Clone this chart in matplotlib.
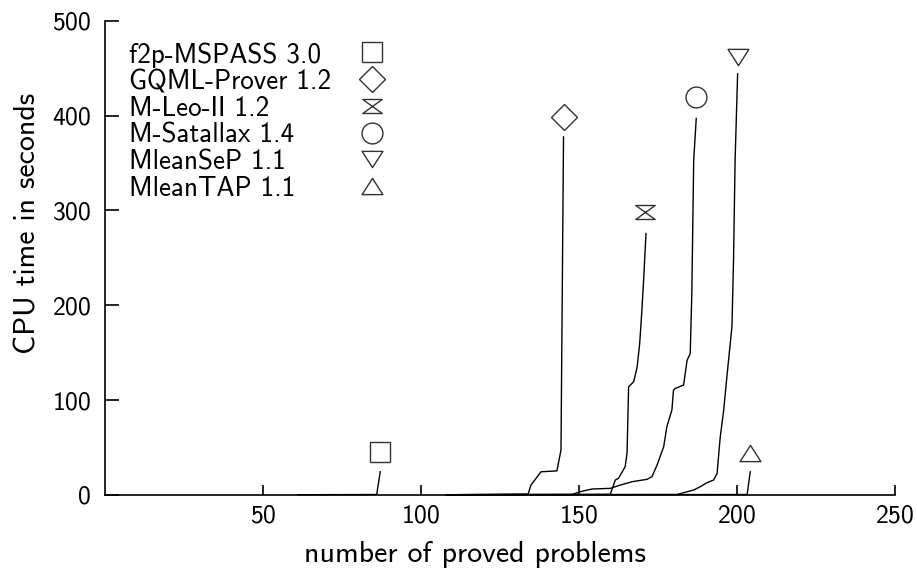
import matplotlib
matplotlib.use("Agg")
import matplotlib.pyplot as plt
from matplotlib.path import Path

plt.rcParams['font.family'] = ['cmss10', 'DejaVu Sans']
plt.rcParams['axes.formatter.use_mathtext'] = True
plt.rcParams['mathtext.fontset'] = 'cm'

# ---- data ----
provers = ["f2p-MSPASS 3.0", "GQML-Prover 1.2", "M-Leo-II 1.2",
           "M-Satallax 1.4", "MleanSeP 1.1", "MleanTAP 1.1"]

f2p_x = [61, 85.5, 86.0, 87.1]
f2p_y = [0.3, 0.5, 0.8, 24.5]

gqml_x = [108, 133.9, 134.8, 135.6, 137.97, 143.0, 144.3, 145.1]
gqml_y = [0.3, 1.0, 10.5, 14.0, 24.5, 25.4, 47.4, 377.5]

leo_x = [108, 159.9, 161.5, 162.5, 164.6, 165.2, 165.7, 167.3, 168.4, 169.2,
         169.9, 170.5, 171.2]
leo_y = [0.3, 0.7, 15.8, 17.6, 29.8, 43.9, 114.0, 119.4, 135.0, 159.5,
         194.6, 229.7, 275.7]

sat_x = [108, 147.8, 150.4, 154.1, 159.9, 163.1, 166.8, 171.5, 173.1, 174.7,
         176.8, 177.8, 179.4, 179.9, 180.5, 183.1, 184.2, 185.2, 185.7, 186.3,
         187.1]
sat_y = [0.3, 0.5, 3.5, 6.3, 7.0, 10.5, 14.0, 16.5, 19.3, 31.6, 50.9, 72.0,
         89.6, 110.6, 112.4, 115.9, 142.0, 149.0, 212.5, 353.0, 397.0]

sep_x = [108, 181.0, 186.3, 188.4, 190.5, 192.6, 193.7, 194.7, 195.8, 196.8,
         198.4, 198.9, 199.4, 200.2]
sep_y = [0.3, 0.5, 5.3, 8.8, 13.0, 15.8, 22.8, 61.4, 89.6, 124.7, 177.4,
         247.6, 353.0, 444.0]

tap_x = [108, 203.2, 204.2]
tap_y = [0.3, 0.5, 24.5]

# end-of-curve marker positions (x, y)
mark_x = [87.1, 145.1, 170.8, 187.1, 200.2, 204.0]
mark_y = [45.0, 398.0, 298.0, 420.0, 462.0, 44.0]

x_ticks = [50, 100, 150, 200, 250]
y_ticks = [0, 100, 200, 300, 400, 500]

series_x = [f2p_x, gqml_x, leo_x, sat_x, sep_x, tap_x]
series_y = [f2p_y, gqml_y, leo_y, sat_y, sep_y, tap_y]

# ---- marker shapes ----
hourglass = Path([(-1, 0.72), (1, 0.72), (-1, -0.72), (1, -0.72), (-1, 0.72)],
                 [Path.MOVETO, Path.LINETO, Path.LINETO, Path.LINETO, Path.CLOSEPOLY])
tri_down = Path([(0, -0.78), (-1, 0.78), (1, 0.78), (0, -0.78)],
                [Path.MOVETO, Path.LINETO, Path.LINETO, Path.CLOSEPOLY])
tri_up = Path([(0, 0.78), (-1, -0.78), (1, -0.78), (0, 0.78)],
              [Path.MOVETO, Path.LINETO, Path.LINETO, Path.CLOSEPOLY])
markers = ['s', 'D', hourglass, 'o', tri_down, tri_up]
msizes = [14.5, 13.5, 14, 15, 15, 15]

mcol = '#333333'

fig = plt.figure(figsize=(9.17, 5.75), dpi=100)
ax = fig.add_axes([105 / 917, 80 / 575, 790 / 917, 474.3 / 575])

for xs, ys in zip(series_x, series_y):
    ax.plot(xs, ys, color='black', lw=1.0, clip_on=False, zorder=3)

for mx, my, mk, ms in zip(mark_x, mark_y, markers, msizes):
    ax.plot([mx], [my], linestyle='none', marker=mk, markersize=ms,
            markerfacecolor='none', markeredgecolor=mcol, markeredgewidth=1.0,
            clip_on=False, zorder=4)

# legend drawn manually: left-aligned text, markers in a column
row0 = 0.933
dy = 0.0563
for i, (name, mk, ms) in enumerate(zip(provers, markers, msizes)):
    yy = row0 - i * dy
    ax.text(0.0304, yy, name, transform=ax.transAxes, fontsize=19.5,
            ha='left', va='center_baseline')
    ax.plot([0.338], [yy], transform=ax.transAxes, linestyle='none',
            marker=mk, markersize=ms, markerfacecolor='none',
            markeredgecolor=mcol, markeredgewidth=1.0, clip_on=False)

ax.set_xlim(0, 250)
ax.set_ylim(0, 500)
ax.set_xticks(x_ticks)
ax.set_yticks(y_ticks)
ax.tick_params(axis='x', direction='in', length=7, width=1.2, pad=7, labelsize=18.5)
ax.tick_params(axis='y', direction='in', length=10, width=1.2, pad=10, labelsize=18.5)
for s in ['top', 'right']:
    ax.spines[s].set_visible(False)
for s in ['left', 'bottom']:
    ax.spines[s].set_linewidth(1.2)

ax.set_xlabel("number of proved problems", fontsize=21.5)
ax.set_ylabel("CPU time in seconds", fontsize=21.5)
ax.xaxis.set_label_coords(0.468, -0.097)
ax.yaxis.set_label_coords(-0.081, 0.573)

fig.savefig("out.png", dpi=100)
